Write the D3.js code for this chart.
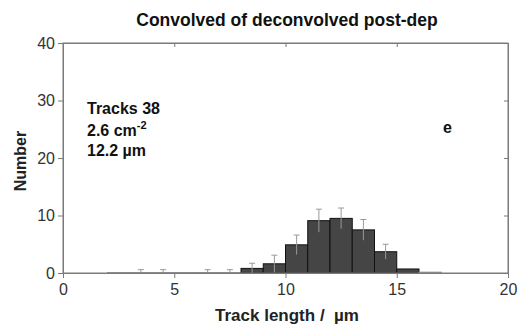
<!DOCTYPE html>
<html>
<head>
<meta charset="utf-8">
<script src="https://cdn.jsdelivr.net/npm/d3@7"></script>
<style>
body { margin: 0; background: #fff; }
svg text { font-family: "Liberation Sans", Arial, sans-serif; }
</style>
</head>
<body>
<div class="canva"></div>
<script>
// histogram bins (left edge, width 1 µm)
const binStart = [2, 3, 4, 5, 6, 7, 8, 9, 10, 11, 12, 13, 14, 15, 16];
const counts   = [0.08, 0.08, 0.08, 0.08, 0.08, 0.08, 0.8, 1.6, 4.9, 9.1, 9.5, 7.5, 3.7, 0.7, 0.15];
const errs     = [0, 0.5, 0.5, 0, 0.5, 0.5, 0.9, 1.5, 1.7, 2.0, 1.8, 1.8, 1.3, 0, 0];
const xTicks = [0, 5, 10, 15, 20];
const yTicks = [0, 10, 20, 30, 40];
const infoLines = ["Tracks 38", "2.6 cm", "12.2 µm"];

const W = 521, H = 328;
const m = {left: 63, right: 13, top: 43, bottom: 55};

const svg = d3.select(".canva").append("svg")
    .attr("width", W)
    .attr("height", H);

const x = d3.scaleLinear().domain([0, 20]).range([m.left, W - m.right]);
const y = d3.scaleLinear().domain([0, 40]).range([H - m.bottom, m.top]);

const frame = "#7a7a7a";

// bars
const data = binStart.map((b, i) => ({b: b, v: counts[i], e: errs[i]}));

svg.selectAll("rect.bar")
    .data(data)
    .enter()
    .append("rect")
    .attr("class", "bar")
    .attr("x", d => x(d.b))
    .attr("width", d => x(d.b + 1) - x(d.b))
    .attr("y", d => y(d.v))
    .attr("height", d => y(0) - y(d.v))
    .attr("fill", d => d.v < 0.5 ? "#888" : "#454545")
    .attr("stroke", d => d.v < 0.5 ? "#999" : "#111")
    .attr("stroke-width", 1);

// error bars
const eb = data.filter(d => d.e > 0);
svg.selectAll("line.err")
    .data(eb)
    .enter()
    .append("line")
    .attr("x1", d => x(d.b + 0.5))
    .attr("x2", d => x(d.b + 0.5))
    .attr("y1", d => y(Math.max(0, d.v - d.e)))
    .attr("y2", d => y(d.v + d.e))
    .attr("stroke", "#999")
    .attr("stroke-width", 1);

svg.selectAll("line.cap")
    .data(eb)
    .enter()
    .append("line")
    .attr("x1", d => x(d.b + 0.5) - 3)
    .attr("x2", d => x(d.b + 0.5) + 3)
    .attr("y1", d => y(d.v + d.e))
    .attr("y2", d => y(d.v + d.e))
    .attr("stroke", "#999")
    .attr("stroke-width", 1);

// frame
svg.append("rect")
    .attr("x", x(0)).attr("y", y(40))
    .attr("width", x(20) - x(0)).attr("height", y(0) - y(40))
    .attr("fill", "none").attr("stroke", frame).attr("stroke-width", 1);

// axes
svg.append("g")
    .attr("transform", `translate(0,${y(0)})`)
    .call(d3.axisBottom(x).tickValues(xTicks).tickSize(5).tickPadding(6));
svg.append("g")
    .attr("transform", `translate(${x(0)},0)`)
    .call(d3.axisLeft(y).tickValues(yTicks).tickSize(5).tickPadding(3));
// inward ticks on top and right
svg.append("g")
    .attr("transform", `translate(0,${y(40)})`)
    .call(d3.axisBottom(x).tickValues(xTicks).tickSize(4).tickFormat(""));
svg.append("g")
    .attr("transform", `translate(${x(20)},0)`)
    .call(d3.axisLeft(y).tickValues(yTicks).tickSize(4).tickFormat(""));

svg.selectAll(".domain").attr("stroke", frame);
svg.selectAll(".tick line").attr("stroke", frame);
svg.selectAll(".tick text")
    .attr("fill", "#333")
    .style("font-size", "16px")
    .style("font-family", "Liberation Sans, Arial, sans-serif");

// titles
svg.append("text")
    .attr("x", 287).attr("y", 26)
    .attr("text-anchor", "middle")
    .style("font-size", "17.5px").style("font-weight", "bold")
    .attr("fill", "#111")
    .text("Convolved of deconvolved post-dep");

svg.append("text")
    .attr("x", 287).attr("y", 321)
    .attr("text-anchor", "middle")
    .style("font-size", "17px").style("font-weight", "bold")
    .attr("fill", "#222")
    .attr("xml:space", "preserve")
    .text("Track length /  µm");

svg.append("text")
    .attr("transform", "translate(26,161) rotate(-90)")
    .attr("text-anchor", "middle")
    .style("font-size", "16px").style("font-weight", "bold")
    .attr("fill", "#222")
    .text("Number");

// info text
const info = svg.append("g")
    .style("font-size", "16px").style("font-weight", "bold")
    .attr("fill", "#111");
info.append("text").attr("x", 87).attr("y", 114).text(infoLines[0]);
const t2 = info.append("text").attr("x", 87).attr("y", 136).text(infoLines[1]);
t2.append("tspan").attr("dy", -7).style("font-size", "11px").text("-2");
info.append("text").attr("x", 87).attr("y", 156).text(infoLines[2]);

svg.append("text")
    .attr("x", 443).attr("y", 133)
    .style("font-size", "16px").style("font-weight", "bold")
    .attr("fill", "#111")
    .text("e");
</script>
</body>
</html>
